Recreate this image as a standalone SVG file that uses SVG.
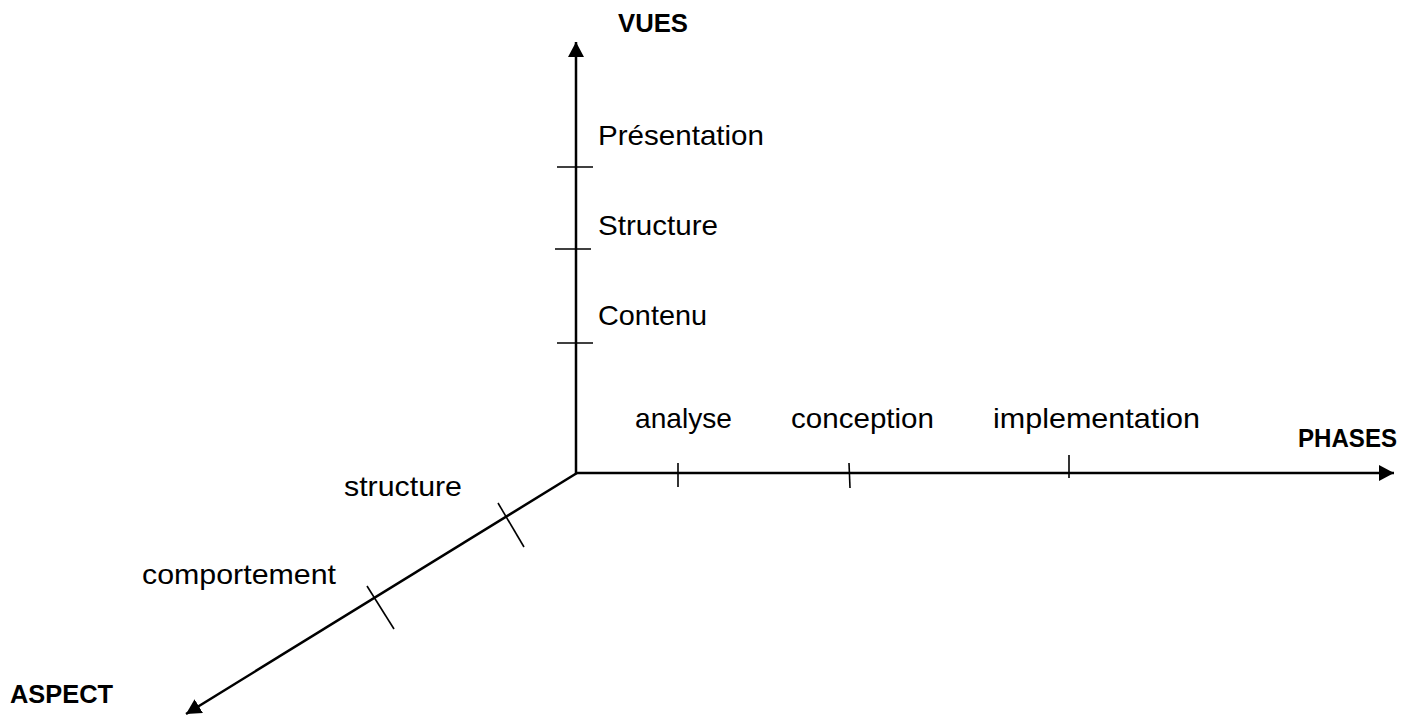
<svg xmlns="http://www.w3.org/2000/svg" width="1413" height="715" viewBox="0 0 1413 715">
<style>
.ax{stroke:#000;stroke-width:2.5;fill:none}
.tk{stroke:#000;stroke-width:1.6;fill:none}
.lb{font-family:"Liberation Sans",Arial,sans-serif;font-size:28px;fill:#000}
.bd{font-family:"Liberation Sans",Arial,sans-serif;font-size:26px;font-weight:bold;fill:#000}
</style>
<defs>
<marker id="ah" viewBox="0 0 15 16" refX="15" refY="8" markerWidth="15" markerHeight="16" markerUnits="userSpaceOnUse" orient="auto">
<path d="M0,0 L15,8 L0,16 Z" fill="#000"/>
</marker>
</defs>
<rect width="1413" height="715" fill="#fff"/>
<g id="connectors">
<line class="ax" x1="576" y1="474" x2="576" y2="42" marker-end="url(#ah)"/>
<line class="ax" x1="575" y1="473" x2="1394" y2="473" marker-end="url(#ah)"/>
<line class="ax" x1="577" y1="473" x2="186" y2="714" marker-end="url(#ah)"/>
</g>
<g id="ticks">
<line class="tk" x1="557" y1="167" x2="593" y2="167"/>
<line class="tk" x1="555" y1="249" x2="591" y2="249"/>
<line class="tk" x1="557" y1="343" x2="593" y2="343"/>
<line class="tk" x1="678" y1="463" x2="678" y2="487"/>
<line class="tk" x1="849" y1="463" x2="850" y2="488"/>
<line class="tk" x1="1069" y1="455" x2="1069" y2="478"/>
<line class="tk" x1="498" y1="503" x2="524" y2="547"/>
<line class="tk" x1="367" y1="586" x2="394" y2="629"/>
</g>
<g id="vues"><text class="bd" x="618" y="32" textLength="70" lengthAdjust="spacingAndGlyphs">VUES</text></g>
<g id="phases"><text class="bd" x="1298" y="447" textLength="99" lengthAdjust="spacingAndGlyphs">PHASES</text></g>
<g id="aspect"><text class="bd" x="10" y="703" textLength="103" lengthAdjust="spacingAndGlyphs">ASPECT</text></g>
<g id="presentation"><text class="lb" x="598" y="145" textLength="166" lengthAdjust="spacingAndGlyphs">Présentation</text></g>
<g id="structure-v"><text class="lb" x="598" y="235" textLength="120" lengthAdjust="spacingAndGlyphs">Structure</text></g>
<g id="contenu"><text class="lb" x="598" y="325" textLength="109" lengthAdjust="spacingAndGlyphs">Contenu</text></g>
<g id="analyse"><text class="lb" x="635" y="428" textLength="97" lengthAdjust="spacingAndGlyphs">analyse</text></g>
<g id="conception"><text class="lb" x="791" y="428" textLength="143" lengthAdjust="spacingAndGlyphs">conception</text></g>
<g id="implementation"><text class="lb" x="993" y="428" textLength="207" lengthAdjust="spacingAndGlyphs">implementation</text></g>
<g id="structure-a"><text class="lb" x="344" y="496" textLength="118" lengthAdjust="spacingAndGlyphs">structure</text></g>
<g id="comportement"><text class="lb" x="142" y="584" textLength="194" lengthAdjust="spacingAndGlyphs">comportement</text></g>
</svg>
